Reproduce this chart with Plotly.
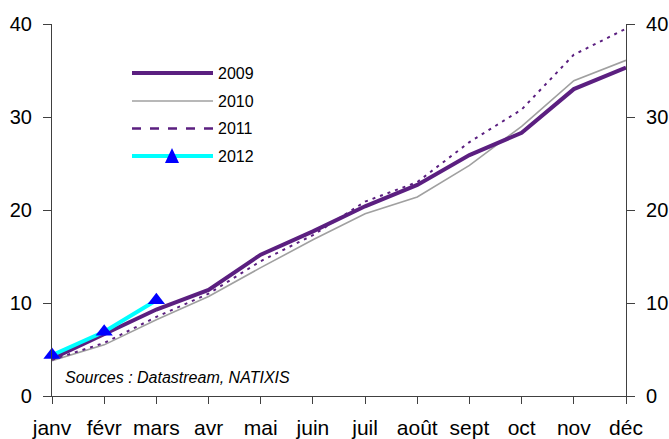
import plotly.graph_objects as go

months = ["janv", "févr", "mars", "avr", "mai", "juin",
          "juil", "août", "sept", "oct", "nov", "déc"]
y2009 = [4.0, 6.6, 9.3, 11.4, 15.2, 17.7, 20.4, 22.7, 25.9, 28.3, 33.0, 35.3]
y2010 = [3.8, 5.5, 8.2, 10.7, 13.8, 16.8, 19.6, 21.4, 24.8, 29.0, 33.9, 36.1]
y2011 = [3.9, 5.7, 8.5, 11.0, 14.5, 17.3, 20.9, 23.0, 27.3, 30.8, 36.7, 39.5]
y2012 = [4.4, 6.9, 10.3]
y_ticks = [0, 10, 20, 30, 40]

PURPLE = "#5B1F80"
GRAY = "#A0A0A0"
CYAN = "#00FFFF"
BLUE = "#0000FF"
FONT = "Arial, Liberation Sans, sans-serif"

x_all = list(range(len(months)))

fig = go.Figure()
fig.add_trace(go.Scatter(x=x_all, y=y2010, mode="lines", name="2010",
                         line=dict(color=GRAY, width=1.6)))
fig.add_trace(go.Scatter(x=x_all, y=y2011, mode="lines", name="2011",
                         line=dict(color=PURPLE, width=2, dash="3px,5px")))
fig.add_trace(go.Scatter(x=x_all, y=y2009, mode="lines", name="2009",
                         line=dict(color=PURPLE, width=4)))
fig.add_trace(go.Scatter(x=x_all[:len(y2012)], y=y2012, mode="lines+markers",
                         name="2012", line=dict(color=CYAN, width=4),
                         marker=dict(symbol="triangle-up", size=15, color=BLUE,
                                     line=dict(width=0)),
                         cliponaxis=False))
# transparent twin of 2009 so the right-hand value axis is built
fig.add_trace(go.Scatter(x=x_all, y=y2009, mode="lines", yaxis="y2",
                         line=dict(color="rgba(0,0,0,0)", width=0),
                         hoverinfo="skip", showlegend=False))

W, H = 669, 439
PL, PR, PT, PB = 52, 626, 24, 396


def px(x):
    return (x - PL) / (PR - PL)


def py(y):
    return (PB - y) / (PB - PT)


# Hand-drawn legend block (long line samples)
legend_rows = [
    ("2009", dict(color=PURPLE, width=4), False),
    ("2010", dict(color=GRAY, width=1.6), False),
    ("2011", dict(color=PURPLE, width=2.5, dash="dash"), False),
    ("2012", dict(color=CYAN, width=4), True),
]
row_y = [73, 101, 128.5, 156]
for (label, ln, tri), yy in zip(legend_rows, row_y):
    fig.add_shape(type="line", xref="paper", yref="paper",
                  x0=px(132), x1=px(213), y0=py(yy), y1=py(yy), line=ln)
    if tri:
        fig.add_shape(type="path", xref="paper", yref="paper",
                      path=f"M {px(165)} {py(yy + 7)} L {px(179)} {py(yy + 7)} "
                           f"L {px(172)} {py(yy - 8)} Z",
                      fillcolor=BLUE, line=dict(width=0))
    fig.add_annotation(xref="paper", yref="paper", x=px(216), y=py(yy),
                       text=label, showarrow=False, xanchor="left", yanchor="middle",
                       font=dict(family=FONT, size=16, color="black"))

fig.add_annotation(xref="paper", yref="paper", x=px(63), y=py(377),
                   text="<i>Sources : Datastream, NATIXIS</i>", showarrow=False,
                   xanchor="left", yanchor="middle",
                   font=dict(family=FONT, size=16, color="black"))

axis_common = dict(range=[0, 40], tickvals=y_ticks, showgrid=False, zeroline=False,
                   showline=True, linecolor="#404040", linewidth=1.2,
                   ticks="outside", ticklen=8, tickcolor="#404040",
                   tickfont=dict(family=FONT, size=20, color="black"),
                   ticklabelstandoff=7, fixedrange=True, automargin=False)

fig.update_layout(
    width=W, height=H,
    margin=dict(l=PL, r=W - PR, t=PT, b=H - PB, autoexpand=False),
    paper_bgcolor="white", plot_bgcolor="white",
    showlegend=False,
    xaxis=dict(range=[0, len(months) - 1], tickvals=x_all, ticktext=months,
               showgrid=False, zeroline=False, showline=True,
               linecolor="#404040", linewidth=1.2, ticks="outside", ticklen=7,
               tickcolor="#404040", tickfont=dict(family=FONT, size=21, color="black"),
               ticklabelstandoff=6, fixedrange=True, automargin=False),
    yaxis=dict(side="left", **axis_common),
    yaxis2=dict(side="right", overlaying="y", anchor="x", **axis_common),
)

fig.write_html("out.html")
